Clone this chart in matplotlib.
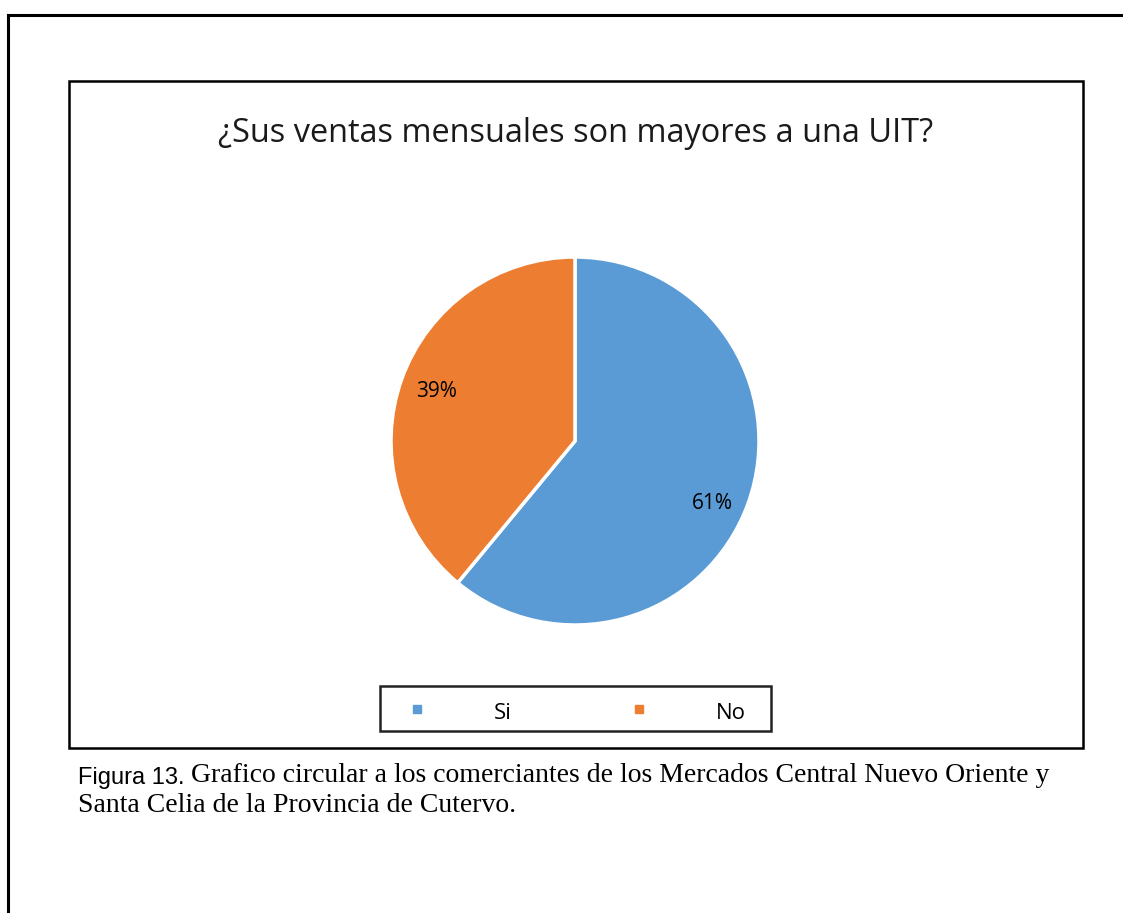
import matplotlib
matplotlib.use("Agg")
import numpy as np
import matplotlib.pyplot as plt
from matplotlib.patches import Rectangle
from matplotlib.lines import Line2D

categories = ["Si", "No"]
values = [61, 39]
colors = ["#5B9BD5", "#ED7D31"]
title = "¿Sus ventas mensuales son mayores a una UIT?"
caption_label = "Figura 13."
caption_line1 = "Grafico circular a los comerciantes de los Mercados Central Nuevo Oriente y"
caption_line2 = "Santa Celia de la Provincia de Cutervo."

W, H = 1123, 913
fig = plt.figure(figsize=(W / 100, H / 100), dpi=100)

def fx(x):
    return x / W

def fy(y):
    return 1 - y / H

# page border (top and left)
fig.add_artist(Line2D([fx(8), fx(1123)], [fy(15), fy(15)], color="black", lw=2.2))
fig.add_artist(Line2D([fx(8), fx(8)], [fy(15), fy(913)], color="black", lw=2.2))

# chart area border
fig.add_artist(Rectangle((fx(69), fy(748)), fx(1083) - fx(69), fy(81) - fy(748),
                         fill=False, edgecolor="black", lw=1.8))

# title
fig.text(fx(576), fy(133), title, ha="center", va="center",
         fontsize=23.4, family="Open Sans", color="#1a1a1a")

# pie axes
cx, cy, r = 575, 441, 184
ax = fig.add_axes([fx(cx - r), fy(cy + r), fx(2 * r), (2 * r) / H])
wedges, texts, autotexts = ax.pie(
    values, colors=colors, startangle=90, counterclock=False,
    autopct="%1.0f%%", pctdistance=0.8,
    wedgeprops=dict(edgecolor="white", linewidth=2.5),
    textprops=dict(fontsize=15, family="Open Sans", color="black"))
# nudge the first label slightly (Excel best-fit placement)
w0 = wedges[0]
mid = np.deg2rad((w0.theta1 + w0.theta2) / 2 - 4.6)
autotexts[0].set_position((0.82 * np.cos(mid), 0.82 * np.sin(mid)))
ax.set_xlim(-1, 1)
ax.set_ylim(-1, 1)
ax.set_aspect("equal")
ax.axis("off")

# legend (drawn as an Excel-style boxed legend)
fig.add_artist(Rectangle((fx(380), fy(731)), fx(771) - fx(380), fy(686) - fy(731),
                         fill=False, edgecolor="#222222", lw=1.8))
for i, (cat, col) in enumerate(zip(categories, colors)):
    mx = 417 + i * 222
    fig.add_artist(Line2D([fx(mx)], [fy(709)], marker="s", markersize=6.3,
                          linestyle="none", markerfacecolor=col, markeredgecolor=col))
    fig.text(fx(mx + 77), fy(713.5), cat, ha="left", va="center",
             fontsize=16, family="Open Sans", color="black")

# caption
fig.text(fx(78), fy(784), caption_label, ha="left", va="baseline",
         fontsize=17, family="Liberation Sans", color="black")
fig.text(fx(191), fy(782), caption_line1, ha="left", va="baseline",
         fontsize=20, family="Liberation Serif", color="black")
fig.text(fx(78), fy(812), caption_line2, ha="left", va="baseline",
         fontsize=20, family="Liberation Serif", color="black")

fig.savefig("out.png", dpi=100, facecolor="white")
